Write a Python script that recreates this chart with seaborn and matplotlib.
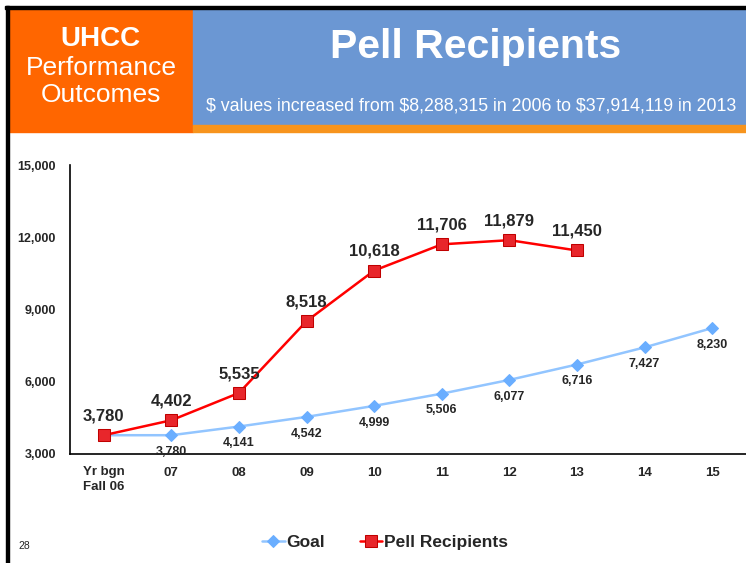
import numpy as np
import pandas as pd
import matplotlib.pyplot as plt
import seaborn as sns
from matplotlib.patches import Rectangle

categories = ["Yr bgn\nFall 06", "07", "08", "09", "10", "11", "12", "13", "14", "15"]
goal = [3780, 3780, 4141, 4542, 4999, 5506, 6077, 6716, 7427, 8230]
pell = [3780, 4402, 5535, 8518, 10618, 11706, 11879, 11450]

sns.set_style("white")
plt.rcParams["font.family"] = ["Liberation Sans", "DejaVu Sans"]

fig = plt.figure(figsize=(7.46, 5.63), dpi=100)

# header
fig.patches.append(Rectangle((9/746, 1-132/563), 184/746, 123/563, transform=fig.transFigure,
                             color="#FF6600", zorder=0))
fig.patches.append(Rectangle((193/746, 1-125/563), 553/746, 116/563, transform=fig.transFigure,
                             color="#6B97D3", zorder=0))
fig.patches.append(Rectangle((193/746, 1-132/563), 553/746, 7/563, transform=fig.transFigure,
                             color="#F7941D", zorder=0))
# frame
fig.patches.append(Rectangle((5/746, 1-9/563), 741/746, 3/563, transform=fig.transFigure,
                             color="black", zorder=1))
fig.patches.append(Rectangle((6/746, 0), 3/746, 1-6/563, transform=fig.transFigure,
                             color="black", zorder=1))

fig.text(100/746, 1-39/563, "UHCC", color="white", fontsize=20, fontweight="bold", ha="center", va="center")
fig.text(101/746, 1-68/563, "Performance", color="white", fontsize=19, ha="center", va="center")
fig.text(101/746, 1-95/563, "Outcomes", color="white", fontsize=19, ha="center", va="center")
fig.text(476/746, 1-47/563, "Pell Recipients", color="white", fontsize=29.5, fontweight="bold",
         ha="center", va="center")
fig.text(471/746, 1-106/563, "$ values increased from $8,288,315 in 2006 to $37,914,119 in 2013",
         color="white", fontsize=12.8, ha="center", va="center")
fig.text(18/746, 1-546/563, "28", fontsize=7.5, ha="left", va="center")

ax = fig.add_axes([70/746, 1-454/563, 676/746, 289/563])

df_goal = pd.DataFrame({"x": range(len(goal)), "y": goal})
df_pell = pd.DataFrame({"x": range(len(pell)), "y": pell})

sns.lineplot(data=df_goal, x="x", y="y", ax=ax, color="#92C5FF", linewidth=1.8,
             marker="D", markersize=6, markerfacecolor="#6AAEFF", markeredgecolor="#6AAEFF",
             label="Goal", clip_on=False)
sns.lineplot(data=df_pell, x="x", y="y", ax=ax, color="#FF0000", linewidth=1.8,
             marker="s", markersize=8, markerfacecolor="#E8262B", markeredgecolor="#C00000",
             label="Pell Recipients", clip_on=False)

# first goal point shares the pell label, so skip it
for i, v in enumerate(goal):
    if i == 0:
        continue
    ax.annotate(f"{v:,}", (i, v), xytext=(0, -12), textcoords="offset points",
                ha="center", va="center", fontsize=9, fontweight="bold")
for i, v in enumerate(pell):
    ax.annotate(f"{v:,}", (i, v), xytext=(0, 14), textcoords="offset points",
                ha="center", va="center", fontsize=12, fontweight="bold")

ax.set_xlim(-0.5, 9.5)
ax.set_ylim(3000, 15000)
ax.set_yticks([3000, 6000, 9000, 12000, 15000])
ax.set_yticklabels([f"{t:,}" for t in [3000, 6000, 9000, 12000, 15000]], fontsize=9, fontweight="bold")
ax.set_xticks(range(len(categories)))
ax.set_xticklabels(categories, fontsize=9.5, fontweight="bold", multialignment="left", linespacing=1.25)
ax.set_xticks(np.arange(-0.5, 10, 1), minor=True)
ax.tick_params(axis="x", which="major", length=0, pad=9)
ax.tick_params(axis="x", which="minor", length=4, direction="out", color="#999999")
ax.tick_params(axis="y", length=4, direction="out", color="black", width=0.8, pad=6)
ax.set_xlabel("")
ax.set_ylabel("")
for s in ["top", "right"]:
    ax.spines[s].set_visible(False)
for s in ["left", "bottom"]:
    ax.spines[s].set_color("black")
    ax.spines[s].set_linewidth(1.2)

leg = ax.legend(loc="center", bbox_to_anchor=(385/746, 1-542/563), bbox_transform=fig.transFigure,
                ncol=2, frameon=False, prop={"size": 12.5, "weight": "bold"},
                handlelength=1.3, handletextpad=0.1, columnspacing=2.0)

fig.savefig("out.png", dpi=100)
